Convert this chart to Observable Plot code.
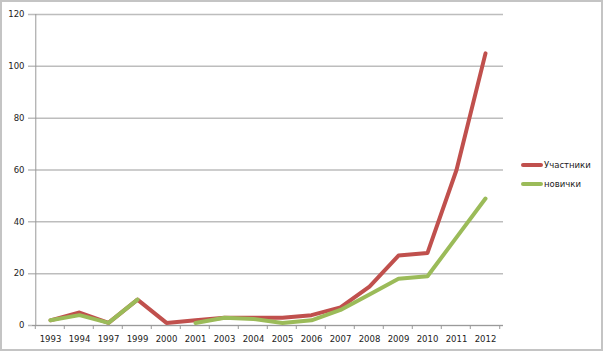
<!DOCTYPE html>
<html>
<head>
<meta charset="utf-8">
<script src="https://cdn.jsdelivr.net/npm/d3@7"></script>
<script src="https://cdn.jsdelivr.net/npm/@observablehq/plot@0.6"></script>
<style>
  body { margin: 0; background: #fff; }
  #wrap { position: relative; width: 603px; height: 351px; font-family: "DejaVu Sans", sans-serif; }
  #border { position: absolute; left: 0; top: 0; width: 603px; height: 351px; box-sizing: border-box; border: 2px solid #c4c4c4; pointer-events: none; }
  #legend { position: absolute; left: 521px; top: 155px; font-size: 8.5px; color: #222; }
  .item { display: flex; align-items: center; height: 19px; }
  .sw { width: 22px; height: 4px; border-radius: 2px; margin-right: 1px; }
</style>
</head>
<body>
<div id="wrap">
  <div id="chart"></div>
  <div id="legend"></div>
  <div id="border"></div>
</div>
<script>
const years = ["1993","1994","1997","1999","2000","2001","2003","2004","2005","2006","2007","2008","2009","2010","2011","2012"];
const participants = [2, 5, 1, 10, 1, 2, 3, 3, 3, 4, 7, 15, 27, 28, 60, 105];
const newcomers   = [2, 4, 1, 10, null, 1, 3, 2.5, 1, 2, 6, 12, 18, 19, 34, 49];
const seriesNames = ["Участники", "новички"];
const seriesColors = ["#c0504d", "#9bbb59"];
const yTicks = [0, 20, 40, 60, 80, 100, 120];

const rows = [];
years.forEach((y, i) => rows.push({year: y, series: seriesNames[0], value: participants[i]}));
years.forEach((y, i) => rows.push({year: y, series: seriesNames[1], value: newcomers[i]}));

const W = 603, H = 351, ML = 32, MR = 100, MT = 14, MB = 26;
const step = (W - ML - MR) / years.length;

const plot = Plot.plot({
  width: W, height: H,
  marginLeft: ML, marginRight: MR, marginTop: MT, marginBottom: MB,
  style: {fontFamily: "DejaVu Sans, sans-serif", fontSize: "8.5px", color: "#222", background: "transparent"},
  x: {type: "point", domain: years, padding: 0.5, label: null},
  y: {domain: [0, 120], label: null},
  color: {domain: seriesNames, range: seriesColors},
  marks: [
    Plot.gridY(yTicks, {stroke: "#bdbdbd", strokeOpacity: 1, strokeWidth: 1.5, insetLeft: -4}),
    Plot.ruleX([years[0]], {dx: -step / 2, stroke: "#9a9a9a", strokeWidth: 1}),
    Plot.ruleY([0], {stroke: "#9a9a9a", strokeWidth: 1}),
    Plot.axisY(yTicks, {tickSize: 0, tickPadding: 8, fill: "#222"}),
    Plot.axisX({tickSize: 0, tickPadding: 10, fill: "#222"}),
    Plot.line(rows.filter(d => d.series === seriesNames[0]), {x: "year", y: "value", stroke: seriesColors[0], strokeWidth: 4, strokeLinejoin: "round", strokeLinecap: "round"}),
    Plot.line(rows.filter(d => d.series === seriesNames[1]), {x: "year", y: "value", stroke: seriesColors[1], strokeWidth: 4, strokeLinejoin: "round", strokeLinecap: "round"})
  ]
});
document.getElementById("chart").append(plot);

// x tick marks at category boundaries
const xs = plot.scale("x"), ys = plot.scale("y");
const y0 = ys.apply(0);
const g = d3.select(plot).append("g").attr("stroke", "#9a9a9a");
years.concat([null]).forEach((yr, i) => {
  const x = yr === null ? xs.apply(years[years.length - 1]) + step / 2 : xs.apply(yr) - step / 2;
  g.append("line").attr("x1", x).attr("x2", x).attr("y1", y0).attr("y2", y0 + 4);
});

const leg = document.getElementById("legend");
seriesNames.forEach((n, i) => {
  const it = document.createElement("div");
  it.className = "item";
  it.innerHTML = `<span class="sw" style="background:${seriesColors[i]}"></span><span>${n}</span>`;
  leg.append(it);
});
</script>
</body>
</html>
